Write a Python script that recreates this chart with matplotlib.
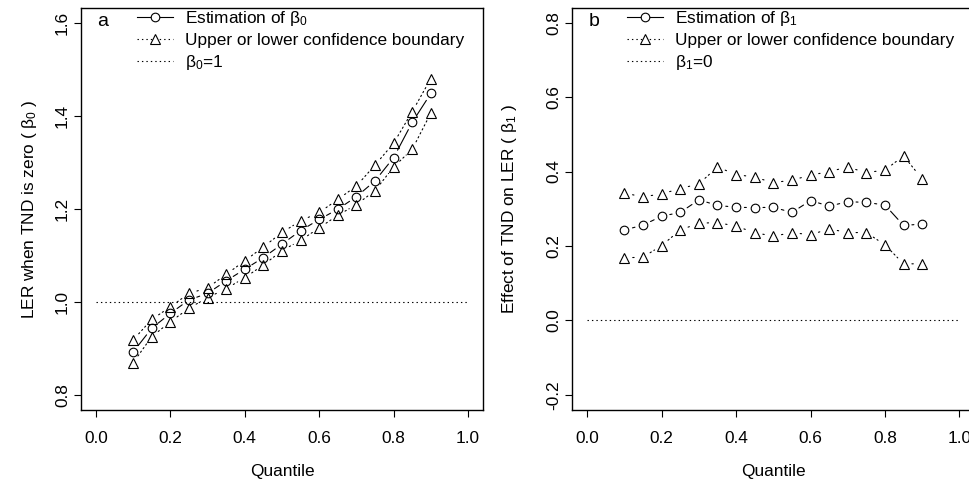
import matplotlib
matplotlib.use('Agg')
import matplotlib.pyplot as plt
from matplotlib.lines import Line2D

plt.rcParams['font.family'] = ['Liberation Sans', 'DejaVu Sans']
plt.rcParams['mathtext.fontset'] = 'custom'
plt.rcParams['mathtext.rm'] = 'Liberation Sans'
plt.rcParams['mathtext.it'] = 'Liberation Sans:italic'
plt.rcParams['mathtext.default'] = 'regular'
plt.rcParams['axes.unicode_minus'] = False
plt.rcParams['lines.scale_dashes'] = False

# quantile levels
quantiles = [0.1, 0.15, 0.2, 0.25, 0.3, 0.35, 0.4, 0.45, 0.5,
             0.55, 0.6, 0.65, 0.7, 0.75, 0.8, 0.85, 0.9]

# panel a: intercept
b0_est = [0.892, 0.943, 0.975, 1.004, 1.018, 1.045, 1.070, 1.095, 1.124,
          1.153, 1.177, 1.199, 1.226, 1.260, 1.310, 1.386, 1.448]
b0_upper = [0.918, 0.962, 0.989, 1.018, 1.030, 1.059, 1.088, 1.118, 1.149,
            1.174, 1.192, 1.220, 1.249, 1.294, 1.341, 1.409, 1.480]
b0_lower = [0.869, 0.925, 0.957, 0.986, 1.009, 1.028, 1.052, 1.079, 1.110,
            1.132, 1.159, 1.186, 1.209, 1.239, 1.290, 1.328, 1.406]
b0_ref = 1.0

# panel b: slope
b1_est = [0.243, 0.256, 0.280, 0.290, 0.324, 0.309, 0.304, 0.303, 0.304,
          0.290, 0.322, 0.307, 0.319, 0.317, 0.310, 0.255, 0.259]
b1_upper = [0.342, 0.332, 0.340, 0.354, 0.367, 0.412, 0.392, 0.385, 0.370,
            0.377, 0.390, 0.400, 0.412, 0.397, 0.404, 0.442, 0.380]
b1_lower = [0.168, 0.170, 0.201, 0.243, 0.261, 0.263, 0.253, 0.236, 0.226,
            0.236, 0.230, 0.246, 0.236, 0.236, 0.203, 0.152, 0.152]
b1_ref = 0.0

DOT = (0, (1, 2.2))
LW = 0.8
GAP = 6.0
MS_O = 6.2
MS_T = 6.8


def type_b(ax, x, y, marker, ls, ms):
    # R-style type="b": segments with gaps around the points
    for i in range(len(x) - 1):
        ax.annotate('', xy=(x[i + 1], y[i + 1]), xytext=(x[i], y[i]),
                    arrowprops=dict(arrowstyle='-', shrinkA=GAP, shrinkB=GAP,
                                    lw=LW, linestyle=ls, color='black'))
    ax.plot(x, y, linestyle='none', marker=marker, mfc='none', mec='black',
            ms=ms, mew=LW)


def panel(ax, est, upper, lower, ref, yticks, ylabel, letter, sub, refval):
    type_b(ax, quantiles, est, 'o', '-', MS_O)
    type_b(ax, quantiles, upper, '^', DOT, MS_T)
    type_b(ax, quantiles, lower, '^', DOT, MS_T)
    ax.hlines(ref, 0, 1, colors='black', lw=LW, linestyles=[DOT])

    ax.set_xlim(-0.04, 1.04)
    yr = yticks[-1] - yticks[0]
    ax.set_ylim(yticks[0] - 0.04 * yr, yticks[-1] + 0.04 * yr)
    ax.set_xticks([0.0, 0.2, 0.4, 0.6, 0.8, 1.0])
    ax.set_xticklabels(['0.0', '0.2', '0.4', '0.6', '0.8', '1.0'])
    ax.set_yticks(yticks)
    ax.set_yticklabels(['%.1f' % v for v in yticks])
    ax.tick_params(direction='out', length=5, width=LW, labelsize=12.4)
    ax.tick_params(axis='x', pad=10)
    ax.tick_params(axis='y', pad=3, labelrotation=90)
    for lab in ax.get_yticklabels():
        lab.set_va('center')
    for s in ax.spines.values():
        s.set_linewidth(1.0)

    ax.set_xlabel('Quantile', fontsize=12.4, va='center')
    ax.xaxis.set_label_coords(0.5, -0.155)
    ax.set_ylabel(ylabel, fontsize=12.4, va='center', ha='center')

    ax.text(0.04, 0.965, letter, transform=ax.transAxes, fontsize=14,
            ha='left', va='center')

    handles = [
        Line2D([], [], color='black', lw=LW, ls='-', marker='o', mfc='white',
               mec='black', ms=MS_O, mew=LW),
        Line2D([], [], color='black', lw=LW, ls=DOT, marker='^', mfc='white',
               mec='black', ms=MS_T, mew=LW),
        Line2D([], [], color='black', lw=LW, ls=DOT),
    ]
    labels = [r'Estimation of $\beta_%s$' % sub,
              'Upper or lower confidence boundary',
              r'$\beta_%s$=%s' % (sub, refval)]
    return handles, labels


fig = plt.figure(figsize=(9.7, 4.83), dpi=100)
axa = fig.add_axes([81 / 970, 1 - 409.7 / 483, 402 / 970, 401.9 / 483])
axb = fig.add_axes([572.3 / 970, 1 - 409.7 / 483, 402 / 970, 401.9 / 483])

ha, la = panel(axa, b0_est, b0_upper, b0_lower, b0_ref,
               [0.8, 1.0, 1.2, 1.4, 1.6],
               r'LER when TND is zero ( $\beta_0$ )', 'a', '0', '1')
axa.yaxis.set_label_coords(-0.127, 0.5)
fig.legend(ha, la, loc='upper left', bbox_to_anchor=(137 / 970, 1 - 9 / 483),
           frameon=False, fontsize=12.4, borderpad=0, borderaxespad=0,
           handlelength=2.1, handletextpad=0.7, labelspacing=0.3)

hb, lb = panel(axb, b1_est, b1_upper, b1_lower, b1_ref,
               [-0.2, 0.0, 0.2, 0.4, 0.6, 0.8],
               r'Effect of TND on LER ( $\beta_1$ )', 'b', '1', '0')
axb.yaxis.set_label_coords(-0.157, 0.5)
fig.legend(hb, lb, loc='upper left', bbox_to_anchor=(627 / 970, 1 - 9 / 483),
           frameon=False, fontsize=12.4, borderpad=0, borderaxespad=0,
           handlelength=2.1, handletextpad=0.7, labelspacing=0.3)

fig.savefig('out.png', dpi=100)
